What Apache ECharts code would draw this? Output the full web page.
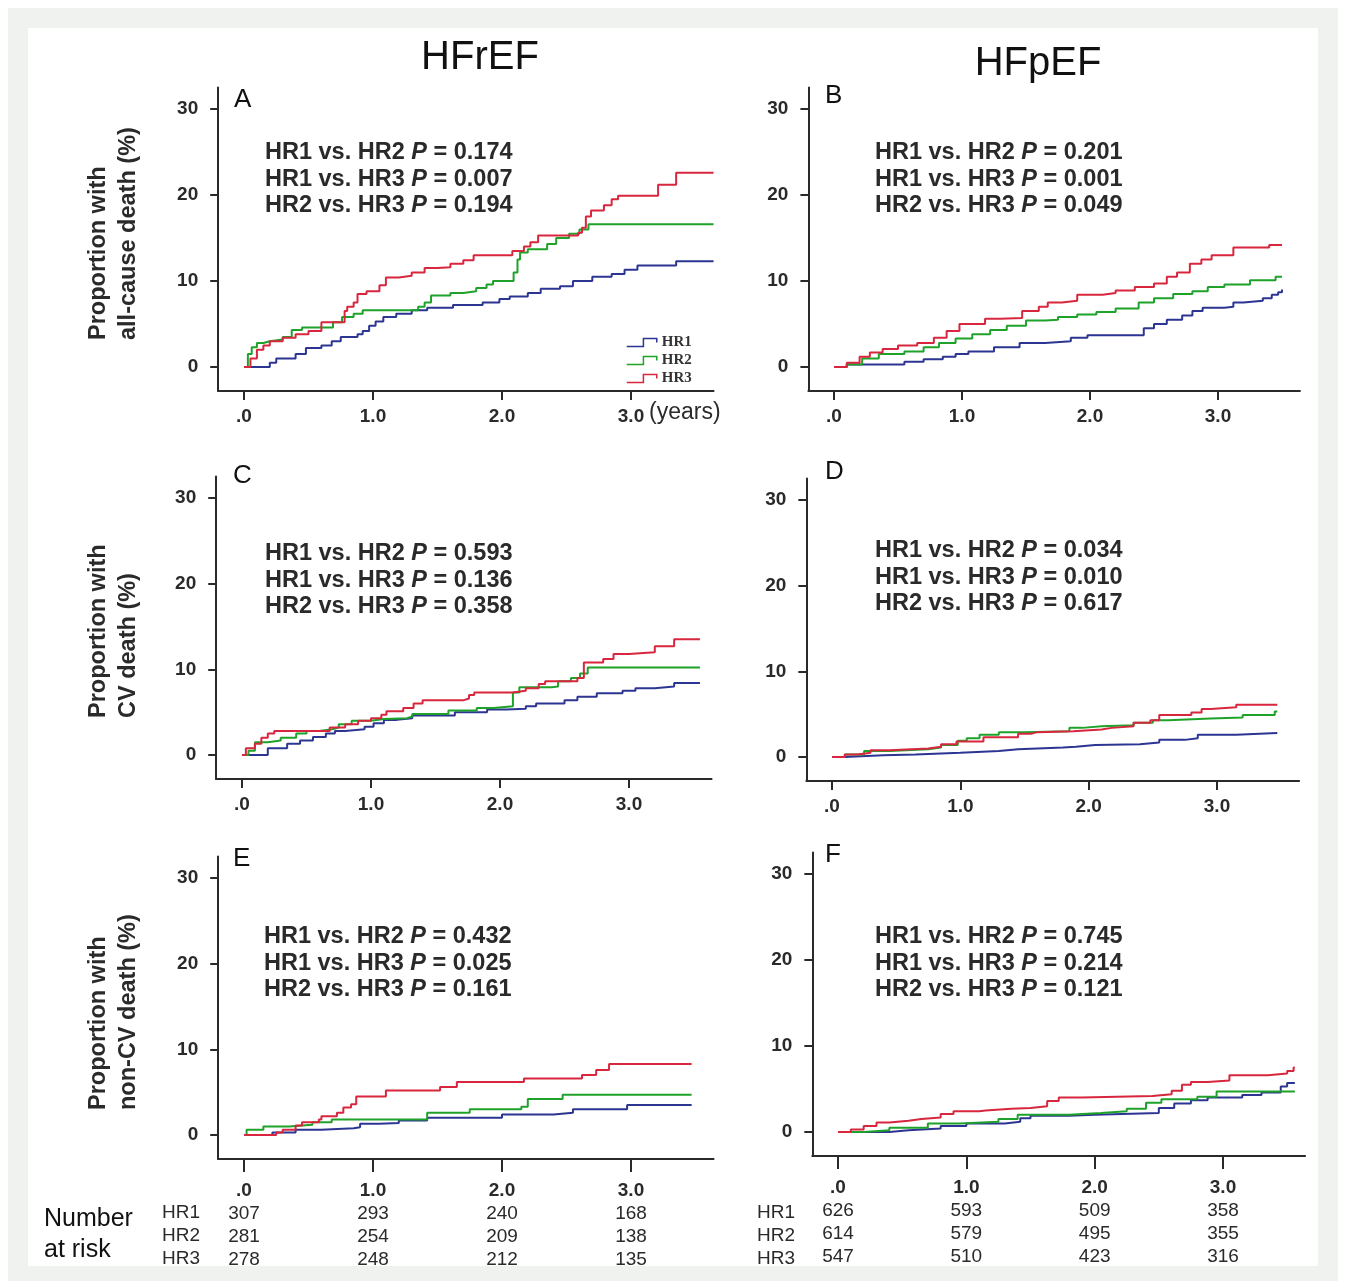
<!DOCTYPE html>
<html>
<head>
<meta charset="utf-8">
<title>HFrEF / HFpEF cumulative incidence</title>
<script src="https://cdn.jsdelivr.net/npm/echarts@6/dist/echarts.min.js"></script>
<style>
  html, body { margin: 0; padding: 0; background: #fff; }
  #chart { width: 1346px; height: 1281px; }
</style>
</head>
<body>
<div id="chart"></div>
<script>
// ---- data (years, cumulative %) ----
var groupNames = ['HR1', 'HR2', 'HR3'];
var columnTitles = ['HFrEF', 'HFpEF'];
var panelLetters = ['A', 'B', 'C', 'D', 'E', 'F'];
var rowAxisNames = [
    'Proportion with\nall-cause death (%)',
    'Proportion with\nCV death (%)',
    'Proportion with\nnon-CV death (%)'
];
var xTickValues = [0, 1, 2, 3];
var xTickText = ['.0', '1.0', '2.0', '3.0'];
var yTickValues = [0, 10, 20, 30];
var comparisons = ['HR1 vs. HR2', 'HR1 vs. HR3', 'HR2 vs. HR3'];

var pA = ['0.174', '0.007', '0.194'];
var pB = ['0.201', '0.001', '0.049'];
var pC = ['0.593', '0.136', '0.358'];
var pD = ['0.034', '0.010', '0.617'];
var pE = ['0.432', '0.025', '0.161'];
var pF = ['0.745', '0.214', '0.121'];

// number at risk
var riskLabels = ['HR1', 'HR2', 'HR3'];
var riskRefHR1 = [307, 293, 240, 168];
var riskRefHR2 = [281, 254, 209, 138];
var riskRefHR3 = [278, 248, 212, 135];
var riskPefHR1 = [626, 593, 509, 358];
var riskPefHR2 = [614, 579, 495, 355];
var riskPefHR3 = [547, 510, 423, 316];

// A: HFrEF all-cause death
var aHR1 = [[0,0],[0.18,0],[0.2,0.5],[0.25,1.0],[0.4,1.5],[0.48,2.2],[0.6,2.5],[0.68,3.0],[0.75,3.5],[0.88,3.8],[0.92,4.2],[0.97,4.8],[1.02,5.3],[1.08,5.8],[1.18,6.2],[1.3,6.6],[1.42,6.9],[1.62,7.2],[1.85,7.5],[1.98,7.9],[2.06,8.2],[2.2,8.6],[2.3,9.1],[2.45,9.4],[2.55,10.0],[2.7,10.5],[2.85,10.8],[2.95,11.3],[3.05,11.8],[3.35,12.3],[3.64,12.3]];
var aHR2 = [[0,0],[0.03,1.5],[0.06,2.3],[0.1,2.8],[0.15,3.0],[0.2,3.2],[0.3,3.5],[0.37,4.3],[0.45,4.6],[0.69,5.2],[0.76,5.8],[0.85,6.2],[0.92,6.6],[1.29,6.6],[1.35,7.0],[1.4,7.5],[1.45,8.3],[1.6,8.6],[1.7,8.8],[1.8,9.2],[1.88,9.6],[1.93,10.0],[2.07,10.0],[2.09,11.0],[2.12,12.5],[2.14,13.3],[2.2,13.7],[2.35,14.3],[2.42,15.0],[2.52,15.5],[2.6,16.0],[2.67,16.6],[3.64,16.6]];
var aHR3 = [[0,0],[0.05,1.0],[0.1,2.0],[0.15,2.5],[0.2,3.0],[0.3,3.4],[0.4,3.8],[0.5,4.2],[0.6,5.2],[0.78,6.5],[0.8,7.0],[0.85,7.5],[0.88,8.5],[0.95,8.8],[1.05,9.5],[1.1,10.4],[1.2,10.6],[1.3,11.0],[1.4,11.5],[1.5,11.6],[1.6,12.0],[1.7,12.4],[1.78,13.0],[2.08,13.5],[2.17,14.0],[2.22,14.5],[2.28,15.3],[2.59,15.6],[2.62,16.2],[2.65,17.5],[2.69,18.2],[2.79,18.8],[2.85,19.5],[2.9,19.9],[3.21,21.2],[3.35,22.6],[3.64,22.6]];

// B: HFpEF all-cause death
var bHR1 = [[0,0],[0.1,0.3],[0.55,0.6],[0.7,0.9],[0.85,1.2],[0.95,1.5],[1.05,1.8],[1.25,2.3],[1.45,2.8],[1.65,3.0],[1.85,3.4],[1.98,3.7],[2.4,3.7],[2.42,4.5],[2.5,5.0],[2.6,5.5],[2.72,6.0],[2.8,6.5],[2.88,6.9],[3.05,7.0],[3.12,7.5],[3.2,7.7],[3.35,8.0],[3.42,8.4],[3.47,8.7],[3.5,9.0]];
var bHR2 = [[0,0],[0.1,0.3],[0.22,1.0],[0.35,1.5],[0.55,1.8],[0.7,2.3],[0.82,2.8],[0.95,3.3],[1.08,3.8],[1.22,4.3],[1.35,4.8],[1.5,5.4],[1.65,5.5],[1.75,5.8],[1.9,6.1],[2.05,6.4],[2.2,6.8],[2.38,7.5],[2.5,8.0],[2.65,8.5],[2.8,8.8],[2.92,9.3],[3.05,9.6],[3.25,10.1],[3.45,10.5],[3.5,10.5]];
var bHR3 = [[0,0],[0.1,0.5],[0.2,1.2],[0.28,1.7],[0.38,2.1],[0.5,2.5],[0.65,2.8],[0.78,3.4],[0.88,4.2],[0.98,5.0],[1.18,5.6],[1.3,5.7],[1.47,6.5],[1.6,7.0],[1.67,7.5],[1.78,7.7],[1.9,8.4],[2.1,8.6],[2.2,8.9],[2.35,9.3],[2.5,9.7],[2.6,10.5],[2.68,11.0],[2.78,12.0],[2.87,12.5],[2.95,13.0],[3.12,13.9],[3.4,14.2],[3.5,14.2]];

// C: HFrEF CV death
var cHR1 = [[0,0],[0.18,0],[0.2,0.8],[0.35,1.3],[0.45,1.7],[0.55,2.1],[0.65,2.5],[0.72,2.8],[0.8,3.0],[0.95,3.3],[1.02,3.7],[1.1,4.1],[1.2,4.3],[1.32,4.6],[1.65,5.0],[1.9,5.3],[2.05,5.4],[2.2,5.7],[2.28,6.0],[2.5,6.4],[2.6,6.8],[2.75,7.2],[2.95,7.5],[3.05,7.8],[3.2,8.0],[3.35,8.4],[3.55,8.4]];
var cHR2 = [[0,0],[0.05,0.5],[0.1,1.5],[0.2,1.7],[0.3,2.0],[0.42,2.5],[0.5,2.8],[0.6,3.0],[0.7,3.2],[0.75,3.6],[0.85,4.0],[1.0,4.2],[1.1,4.3],[1.28,4.5],[1.32,4.8],[1.6,5.2],[1.82,5.5],[1.95,5.7],[2.1,7.3],[2.15,7.9],[2.4,8.0],[2.45,8.6],[2.55,9.0],[2.62,9.5],[2.68,10.2],[3.55,10.2]];
var cHR3 = [[0,0],[0.03,0.8],[0.1,1.3],[0.15,2.0],[0.2,2.5],[0.25,2.8],[0.68,3.2],[0.8,3.6],[0.9,4.0],[1.0,4.3],[1.08,4.7],[1.12,5.1],[1.25,5.5],[1.33,6.0],[1.4,6.4],[1.72,6.6],[1.76,7.0],[1.8,7.3],[2.1,7.5],[2.2,7.8],[2.3,8.3],[2.35,8.6],[2.6,9.0],[2.65,10.8],[2.8,11.2],[2.88,11.8],[3.0,12.0],[3.2,12.7],[3.35,13.5],[3.55,13.5]];

// D: HFpEF CV death
var dHR1 = [[0,0],[0.1,0.2],[0.4,0.3],[0.65,0.5],[1.0,0.7],[1.3,0.9],[1.45,1.1],[1.8,1.2],[1.9,1.4],[2.05,1.5],[2.4,1.7],[2.55,2.0],[2.75,2.2],[2.85,2.6],[3.15,2.8],[3.47,2.8]];
var dHR2 = [[0,0],[0.1,0.3],[0.25,0.7],[0.45,0.9],[0.75,1.1],[0.85,1.4],[0.98,1.9],[1.05,2.2],[1.15,2.6],[1.3,2.9],[1.5,3.0],[1.85,3.4],[1.95,3.6],[2.1,3.7],[2.35,4.0],[2.5,4.3],[2.62,4.5],[2.95,4.6],[3.2,4.9],[3.45,5.3],[3.47,5.3]];
var dHR3 = [[0,0],[0.1,0.3],[0.2,0.5],[0.3,0.8],[0.45,1.0],[0.75,1.2],[0.85,1.5],[0.97,1.8],[1.18,2.3],[1.45,2.7],[1.55,2.9],[1.6,3.0],[1.88,3.2],[2.1,3.4],[2.18,3.6],[2.35,4.0],[2.48,4.3],[2.55,4.9],[2.8,5.2],[2.88,5.6],[2.95,5.8],[3.15,6.1],[3.47,6.1]];

// E: HFrEF non-CV death
var eHR1 = [[0,0],[0.2,0],[0.22,0.3],[0.4,0.6],[0.6,0.8],[0.85,0.9],[0.9,1.3],[1.05,1.4],[1.2,1.7],[1.42,2.0],[2.0,2.4],[2.4,2.6],[2.55,3.0],[2.97,3.5],[3.47,3.5]];
var eHR2 = [[0,0],[0.02,0.6],[0.15,1.0],[0.35,1.2],[0.53,1.5],[0.68,1.8],[1.42,2.6],[1.75,3.0],[2.15,3.3],[2.2,4.2],[2.47,4.7],[3.47,4.7]];
var eHR3 = [[0,0],[0.2,0],[0.25,0.3],[0.3,0.6],[0.4,1.1],[0.45,1.5],[0.58,1.8],[0.6,2.2],[0.72,2.6],[0.77,3.2],[0.83,3.6],[0.87,4.5],[1.1,5.2],[1.52,5.6],[1.65,6.2],[2.17,6.6],[2.62,7.0],[2.73,7.6],[2.83,8.3],[3.47,8.3]];

// F: HFpEF non-CV death
var fHR1 = [[0,0],[0.4,0.2],[0.55,0.4],[0.8,0.7],[1.0,1.0],[1.3,1.2],[1.42,1.6],[1.5,1.9],[1.8,2.0],[2.0,2.2],[2.5,2.8],[2.62,3.3],[2.75,3.7],[2.88,4.0],[3.15,4.3],[3.3,4.6],[3.45,5.3],[3.5,5.7],[3.56,5.7]];
var fHR2 = [[0,0],[0.2,0.2],[0.4,0.5],[0.7,1.0],[0.95,1.2],[1.25,1.5],[1.4,2.0],[1.8,2.2],[2.05,2.4],[2.25,2.7],[2.4,3.4],[2.52,3.8],[2.8,4.1],[2.95,4.7],[3.56,4.7]];
var fHR3 = [[0,0],[0.1,0.3],[0.2,0.7],[0.3,1.1],[0.4,1.3],[0.55,1.5],[0.65,1.7],[0.8,2.1],[0.9,2.4],[1.1,2.5],[1.15,2.7],[1.35,2.8],[1.5,3.0],[1.63,3.6],[1.72,4.0],[1.9,4.2],[2.45,4.4],[2.6,4.8],[2.68,5.5],[2.75,5.8],[2.88,6.0],[3.05,6.6],[3.35,6.8],[3.5,7.1],[3.55,7.5],[3.56,7.5]];

var panelCurves = [
    [aHR1, aHR2, aHR3], [bHR1, bHR2, bHR3],
    [cHR1, cHR2, cHR3], [dHR1, dHR2, dHR3],
    [eHR1, eHR2, eHR3], [fHR1, fHR2, fHR3]
];
var panelP = [pA, pB, pC, pD, pE, pF];
var riskTables = [null, null, null, null,
    [riskRefHR1, riskRefHR2, riskRefHR3],
    [riskPefHR1, riskPefHR2, riskPefHR3]];

// ---- layout / styles ----
var FONT = '"Liberation Sans", Arial, Helvetica, sans-serif';
var INK = '#2a2a2a';
var groupColors = ['#2d3592', '#1fa22a', '#d7263d'];
var X_MIN = -0.2, X_MAX = 3.64, Y_MIN = -2.8, Y_MAX = 32.5;

// pixel position of x=0, x=3, y=0, y=30 in each panel, text anchors
var panelLayout = [
    { x0: 244, x3: 631, y0: 367, y30: 109, tick: 9, letter: [234, 100], p: [265, 153] },
    { x0: 834, x3: 1218, y0: 367, y30: 109, tick: 9, letter: [825, 96], p: [875, 153] },
    { x0: 242, x3: 629, y0: 755, y30: 498, tick: 9, letter: [233, 476], p: [265, 554] },
    { x0: 832, x3: 1217, y0: 757, y30: 500, tick: 9, letter: [825, 472], p: [875, 551] },
    { x0: 244, x3: 631, y0: 1135, y30: 878, tick: 13, letter: [233, 859], p: [264, 937] },
    { x0: 838, x3: 1223, y0: 1132, y30: 874, tick: 13, letter: [825, 855], p: [875, 937] }
];

var grids = [], xAxes = [], yAxes = [], series = [], graphics = [];

// scanned-page frame
graphics.push({
    type: 'rect', z: -10, silent: true,
    shape: { x: 18, y: 18, width: 1310, height: 1258 },
    style: { fill: 'none', stroke: '#eff2ef', lineWidth: 20 }
});

panelLayout.forEach(function (p, i) {
    var kx = (p.x3 - p.x0) / 3;
    var ky = (p.y0 - p.y30) / 30;
    grids.push({
        left: p.x0 + X_MIN * kx,
        width: (X_MAX - X_MIN) * kx,
        top: p.y30 - (Y_MAX - 30) * ky,
        height: (Y_MAX - Y_MIN) * ky,
        outerBoundsMode: 'none'
    });

    var risk = riskTables[i];
    var xLabel = {
        customValues: xTickValues,
        fontFamily: FONT, fontSize: 19, fontWeight: 'bold', color: INK,
        margin: 16,
        formatter: function (v) { return xTickText[Math.round(v)]; }
    };
    if (risk) {
        xLabel = {
            customValues: xTickValues,
            fontFamily: FONT, color: INK, margin: 20,
            formatter: function (v) {
                var k = Math.round(v);
                return '{t|' + xTickText[k] + '}\n{n|' + risk[0][k] + '}\n{n|' + risk[1][k] + '}\n{n|' + risk[2][k] + '}';
            },
            rich: {
                t: { fontFamily: FONT, fontSize: 19, fontWeight: 'bold', color: INK, lineHeight: 23 },
                n: { fontFamily: FONT, fontSize: 19, color: INK, lineHeight: 23 }
            }
        };
    }

    xAxes.push({
        type: 'value', gridIndex: i, min: X_MIN, max: X_MAX,
        axisLine: { show: true, onZero: false, lineStyle: { color: INK, width: 2 } },
        axisTick: { show: true, customValues: xTickValues, length: p.tick, lineStyle: { color: INK, width: 2 } },
        axisLabel: xLabel,
        splitLine: { show: false }
    });
    yAxes.push({
        type: 'value', gridIndex: i, min: Y_MIN, max: Y_MAX,
        axisLine: { show: true, onZero: false, lineStyle: { color: INK, width: 2 } },
        axisTick: { show: true, customValues: yTickValues, length: 8, lineStyle: { color: INK, width: 2 } },
        axisLabel: { customValues: yTickValues, fontFamily: FONT, fontSize: 19, fontWeight: 'bold', color: INK, margin: 20 },
        splitLine: { show: false }
    });

    panelCurves[i].forEach(function (curve, g) {
        series.push({
            type: 'line', name: groupNames[g],
            xAxisIndex: i, yAxisIndex: i,
            data: curve, step: 'end',
            showSymbol: false, symbol: 'none', silent: true,
            itemStyle: { color: groupColors[g] },
            lineStyle: { color: groupColors[g], width: 2 },
            z: 2 + g
        });
    });

    // panel letter
    graphics.push({
        type: 'text', x: p.letter[0], y: p.letter[1],
        style: { text: panelLetters[i], fontFamily: FONT, fontSize: 26, fill: '#111',
                 align: 'left', textAlign: 'left', verticalAlign: 'middle', textVerticalAlign: 'middle' }
    });
    // p values
    panelP[i].forEach(function (pv, r) {
        graphics.push({
            type: 'text', x: p.p[0], y: p.p[1] + r * 26.5,
            style: {
                text: '{b|' + comparisons[r] + ' }{i|P}{b| = ' + pv + '}',
                align: 'left', textAlign: 'left', verticalAlign: 'middle', textVerticalAlign: 'middle',
                rich: {
                    b: { fontFamily: FONT, fontSize: 23.5, fontWeight: 'bold', fill: INK },
                    i: { fontFamily: FONT, fontSize: 23.5, fontWeight: 'bold', fontStyle: 'italic', fill: INK }
                }
            }
        });
    });
});

// column titles
[[480, 58], [1038, 64]].forEach(function (pos, c) {
    graphics.push({
        type: 'text', x: pos[0], y: pos[1],
        style: { text: columnTitles[c], fontFamily: FONT, fontSize: 40, fill: '#111',
                 align: 'center', textAlign: 'center', verticalAlign: 'middle', textVerticalAlign: 'middle' }
    });
});

// row y-axis titles (rotated, lines start at the bottom)
[340, 718, 1110].forEach(function (sy, r) {
    graphics.push({
        type: 'text', x: 114, y: sy, rotation: Math.PI / 2,
        style: { text: rowAxisNames[r], fontFamily: FONT, fontSize: 23.5, fontWeight: 'bold', fill: INK,
                 lineHeight: 30,
                 align: 'left', textAlign: 'left', verticalAlign: 'middle', textVerticalAlign: 'middle' }
    });
});

// "(years)" after the 3.0 label in panel A
graphics.push({
    type: 'text', x: 649, y: 413,
    style: { text: '(years)', fontFamily: FONT, fontSize: 23, fill: INK,
             align: 'left', textAlign: 'left', verticalAlign: 'middle', textVerticalAlign: 'middle' }
});

// number at risk row labels
graphics.push({
    type: 'text', x: 44, y: 1235,
    style: { text: 'Number\nat risk', fontFamily: FONT, fontSize: 25, fill: '#111', lineHeight: 31,
             align: 'left', textAlign: 'left', verticalAlign: 'middle', textVerticalAlign: 'middle' }
});
[162, 757].forEach(function (lx) {
    riskLabels.forEach(function (lab, r) {
        graphics.push({
            type: 'text', x: lx, y: 1213 + r * 23,
            style: { text: lab, fontFamily: FONT, fontSize: 19, fill: INK,
                     align: 'left', textAlign: 'left', verticalAlign: 'middle', textVerticalAlign: 'middle' }
        });
    });
});

var myChart = echarts.init(document.getElementById('chart'), null, { renderer: 'canvas' });
myChart.setOption({
    animation: false,
    backgroundColor: '#ffffff',
    textStyle: { fontFamily: FONT },
    grid: grids,
    xAxis: xAxes,
    yAxis: yAxes,
    legend: {
        orient: 'vertical', left: 621, top: 330,
        itemWidth: 30, itemHeight: 8, itemGap: 3,
        icon: 'path://M0,8 L15,8 L15,0 L27,0 L27,4',
        symbolKeepAspect: false,
        selectedMode: false,
        textStyle: { fontFamily: '"Liberation Serif", "Times New Roman", serif', fontSize: 15, fontWeight: 'bold', color: '#333' },
        data: groupNames.map(function (n, g) {
            return {
                name: n,
                itemStyle: { color: 'rgba(0,0,0,0)', borderColor: groupColors[g], borderWidth: 1.5 }
            };
        })
    },
    series: series,
    graphic: { elements: graphics }
});
</script>
</body>
</html>
